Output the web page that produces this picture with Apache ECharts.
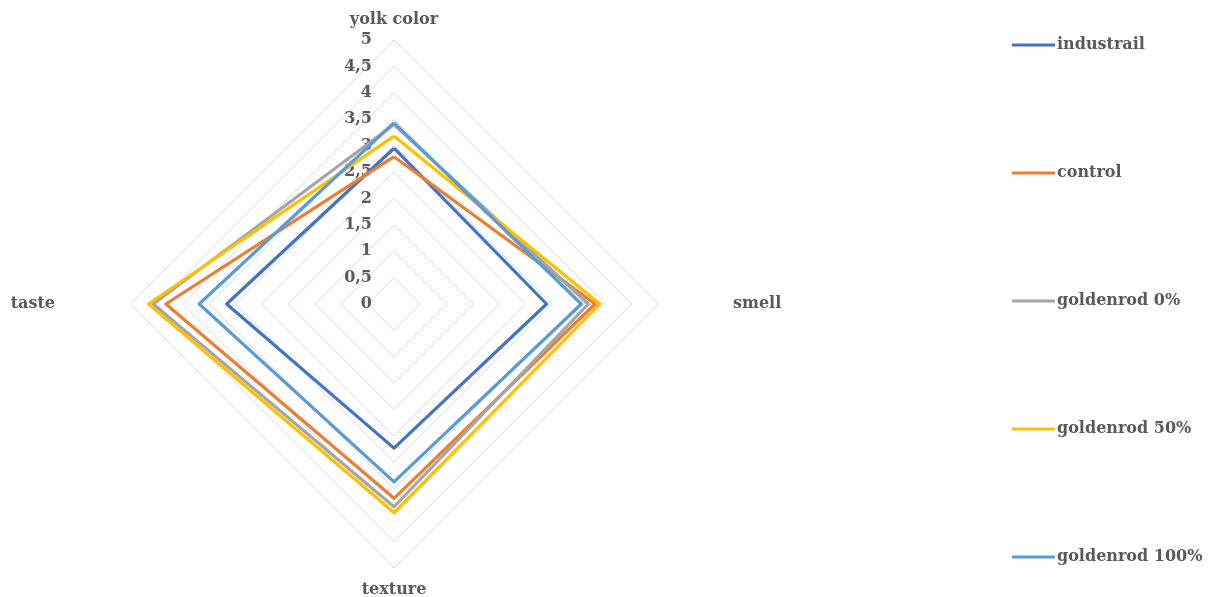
<!DOCTYPE html>
<html><head><meta charset="utf-8">
<script src="https://cdn.jsdelivr.net/npm/echarts@6/dist/echarts.min.js"></script>
<style>html,body{margin:0;padding:0;background:#fff}#c{width:1229px;height:597px}</style>
</head><body><div id="c"></div>
<script>
// Indicators in ECharts order (counter-clockwise from top)
const indicators = ['yolk color', 'taste', 'texture', 'smell'];
const seriesNames = ['industrail', 'control', 'goldenrod 0%', 'goldenrod 50%', 'goldenrod 100%'];
const industrail = [2.95, 3.17, 2.73, 2.89];
const control = [2.79, 4.32, 3.68, 3.81];
const goldenrod0 = [3.40, 4.56, 3.84, 3.68];
const goldenrod50 = [3.18, 4.65, 3.95, 3.90];
const goldenrod100 = [3.43, 3.69, 3.37, 3.55];
const colors = ['#4472C4', '#ED7D31', '#A5A5A5', '#FFC000', '#5B9BD5'];
const values = [industrail, control, goldenrod0, goldenrod50, goldenrod100];

const fontFam = '"DejaVu Serif", "Liberation Serif", serif';
const nameGaps = [12, 75, 14, 75];

const chart = echarts.init(document.getElementById('c'));
chart.setOption({
  animation: false,
  backgroundColor: '#fff',
  color: colors,
  legend: {
    orient: 'vertical',
    left: 1007,
    top: 30,
    itemWidth: 43,
    itemHeight: 3,
    itemGap: 108,
    icon: 'rect',
    data: seriesNames,
    textStyle: { fontFamily: fontFam, fontWeight: 'bold', fontSize: 16, color: '#595959', lineHeight: 20, padding: [0,0,0,-3] }
  },
  radar: {
    center: [394, 304],
    radius: 264,
    startAngle: 90,
    shape: 'polygon',
    splitNumber: 10,
    axisName: { fontFamily: fontFam, fontWeight: 'bold', fontSize: 16, color: '#595959' },
    axisLine: { show: false },
    axisTick: { show: false },
    splitArea: { show: false },
    splitLine: { lineStyle: { color: '#D9D9D9', width: 1 } },
    axisLabel: { show: false, fontFamily: fontFam, fontWeight: 'bold', fontSize: 16, color: '#595959', margin: 22,
      formatter: v => String(v).replace('.', ',') },
    indicator: indicators.map((n, i) => {
      const o = { name: n, min: 0, max: 5, nameGap: nameGaps[i] };
      if (i === 0) o.axisLabel = { show: true };
      return o;
    })
  },
  series: [{
    type: 'radar',
    symbol: 'none',
    data: seriesNames.map((n, i) => ({
      name: n,
      value: values[i],
      lineStyle: { color: colors[i], width: 3.2 },
      itemStyle: { color: colors[i] }
    }))
  }]
});
</script></body></html>
